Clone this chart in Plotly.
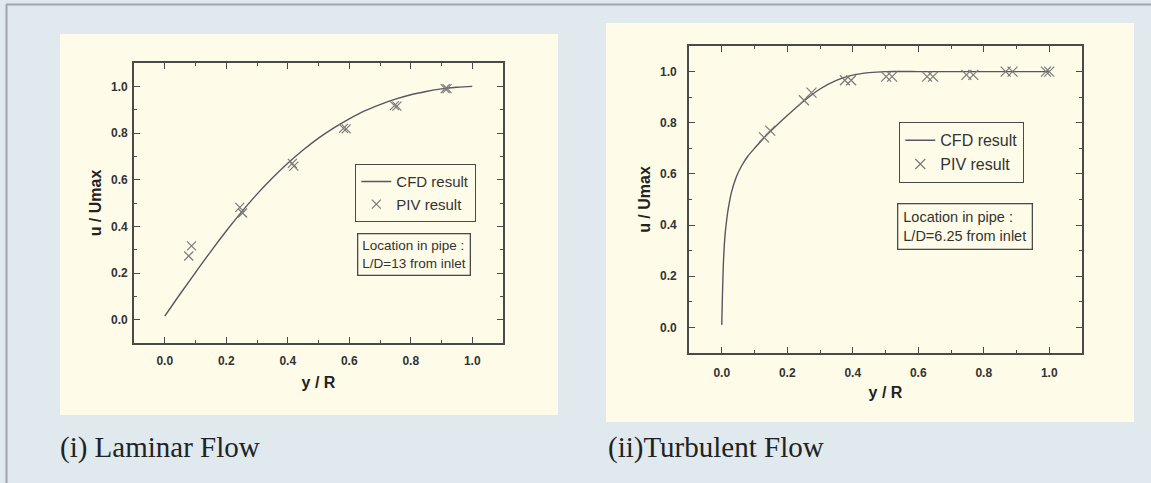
import plotly.graph_objects as go

W, H = 1151, 483

# ---------------- data ----------------
# (i) Laminar flow
lam_cfd_x = [0.0, 0.05, 0.1, 0.15, 0.2, 0.25, 0.3, 0.35, 0.4, 0.45, 0.5,
             0.55, 0.6, 0.65, 0.7, 0.75, 0.8, 0.85, 0.9, 0.95, 1.0]
lam_cfd_y = [0.015, 0.11, 0.202, 0.293, 0.38, 0.462, 0.538, 0.607, 0.67, 0.727, 0.778,
             0.822, 0.861, 0.895, 0.922, 0.945, 0.964, 0.978, 0.989, 0.996, 1.0]
lam_piv_x = [0.078, 0.087, 0.244, 0.253, 0.415, 0.42, 0.581, 0.59, 0.747, 0.755, 0.912, 0.918]
lam_piv_y = [0.273, 0.316, 0.481, 0.457, 0.67, 0.658, 0.82, 0.818, 0.917, 0.915, 0.99, 0.99]

# (ii) Turbulent flow
tur_cfd_x = [0.0, 0.002, 0.005, 0.01, 0.015, 0.02, 0.03, 0.045, 0.06, 0.08, 0.1,
             0.13, 0.16, 0.2, 0.25, 0.3, 0.35, 0.4, 0.45, 0.5, 0.6, 0.7, 0.8, 0.9, 1.0]
tur_cfd_y = [0.01, 0.12, 0.25, 0.36, 0.42, 0.465, 0.53, 0.59, 0.63, 0.67, 0.70,
             0.742, 0.78, 0.828, 0.884, 0.932, 0.966, 0.986, 0.996, 1.0, 1.0, 1.0, 1.0, 1.0, 1.0]
tur_piv_x = [0.129, 0.148, 0.251, 0.274, 0.376, 0.395, 0.502, 0.52, 0.627, 0.645,
             0.747, 0.768, 0.867, 0.888, 0.99, 1.0]
tur_piv_y = [0.743, 0.769, 0.888, 0.918, 0.966, 0.966, 0.98, 0.98, 0.98, 0.98,
             0.987, 0.987, 1.0, 1.0, 1.0, 1.0]

x_ticks = [0.0, 0.2, 0.4, 0.6, 0.8, 1.0]
y_ticks = [0.0, 0.2, 0.4, 0.6, 0.8, 1.0]
captions = ["(i) Laminar Flow", "(ii)Turbulent Flow"]
notes = ["Location in pipe :<br>L/D=13 from inlet", "Location in pipe :<br>L/D=6.25 from inlet"]

# ---------------- styling ----------------
PAGE_BG = "#dfe9ee"
CREAM = "#fefce8"
FRAME = "#4a4a4a"
LINE_C = "#5a5562"
MARK_C = "#7a7a7a"
TICK_FONT = dict(family="Liberation Sans, Arial", size=12, color="#333333", weight="bold")
TITLE_FONT = dict(family="Liberation Sans, Arial", size=16, color="#222222", weight="bold")


def px_x(p):
    return p / W


def px_y(p):
    return 1 - p / H


fig = go.Figure()

fig.add_trace(go.Scatter(x=lam_cfd_x, y=lam_cfd_y, mode="lines", name="CFD result",
                         line=dict(color=LINE_C, width=1.4, shape="spline", smoothing=1.0),
                         xaxis="x", yaxis="y", legend="legend"))
fig.add_trace(go.Scatter(x=lam_piv_x, y=lam_piv_y, mode="markers", name="PIV result",
                         marker=dict(symbol="x-thin", size=9, line=dict(color=MARK_C, width=1.2)),
                         xaxis="x", yaxis="y", legend="legend"))
fig.add_trace(go.Scatter(x=tur_cfd_x, y=tur_cfd_y, mode="lines", name="CFD result",
                         line=dict(color=LINE_C, width=1.4, shape="spline", smoothing=0.5),
                         xaxis="x2", yaxis="y2", legend="legend2"))
fig.add_trace(go.Scatter(x=tur_piv_x, y=tur_piv_y, mode="markers", name="PIV result",
                         marker=dict(symbol="x-thin", size=10, line=dict(color=MARK_C, width=1.2)),
                         xaxis="x2", yaxis="y2", legend="legend2"))

axis_common = dict(
    range=[-0.1, 1.1], tickvals=x_ticks, tickformat=".1f",
    ticks="inside", ticklen=6, tickwidth=1.3, tickcolor=FRAME,
    minor=dict(ticks="inside", dtick=0.1, ticklen=3, tickwidth=1.1, tickcolor=FRAME),
    showline=True, linecolor=FRAME, linewidth=1.6, mirror="allticks",
    showgrid=False, zeroline=False, tickfont=TICK_FONT,
)

fig.update_layout(
    width=W, height=H,
    margin=dict(l=0, r=0, t=0, b=0),
    paper_bgcolor=PAGE_BG, plot_bgcolor=CREAM,
    xaxis=dict(axis_common, domain=[px_x(134), px_x(503)], anchor="y",
               title=dict(text="y / R", font=TITLE_FONT, standoff=10), ticklabelstandoff=6),
    yaxis=dict(axis_common, domain=[px_y(343), px_y(63)], anchor="x",
               title=dict(text="u / Umax", font=TITLE_FONT, standoff=6), ticklabelstandoff=2),
    xaxis2=dict(axis_common, domain=[px_x(689), px_x(1082)], anchor="y2",
                title=dict(text="y / R", font=TITLE_FONT, standoff=8), ticklabelstandoff=8),
    yaxis2=dict(axis_common, domain=[px_y(353), px_y(46)], anchor="x2",
                title=dict(text="u / Umax", font=TITLE_FONT, standoff=6), ticklabelstandoff=8),
    legend=dict(x=px_x(355), y=px_y(164), xanchor="left", yanchor="top",
                bgcolor=CREAM, bordercolor=FRAME, borderwidth=1.3,
                font=dict(family="Liberation Sans, Arial", size=15, color="#333333"),
                tracegroupgap=0, itemwidth=30),
    legend2=dict(x=px_x(899), y=px_y(122), xanchor="left", yanchor="top",
                 bgcolor=CREAM, bordercolor=FRAME, borderwidth=1.3,
                 font=dict(family="Liberation Sans, Arial", size=16, color="#333333"),
                 tracegroupgap=0, itemwidth=30),
)

# cream image panels and page borders
fig.add_shape(type="rect", xref="paper", yref="paper", x0=px_x(60), x1=px_x(558),
              y0=px_y(415), y1=px_y(34), fillcolor=CREAM, line=dict(width=0), layer="below")
fig.add_shape(type="rect", xref="paper", yref="paper", x0=px_x(606), x1=px_x(1134),
              y0=px_y(422), y1=px_y(23), fillcolor=CREAM, line=dict(width=0), layer="below")
fig.add_shape(type="line", xref="paper", yref="paper", x0=px_x(6), x1=1,
              y0=px_y(4.5), y1=px_y(4.5), line=dict(color="#a2a6a8", width=2))
fig.add_shape(type="line", xref="paper", yref="paper", x0=px_x(6.5), x1=px_x(6.5),
              y0=0, y1=px_y(4.5), line=dict(color="#a2a6a8", width=2))

# note boxes
fig.add_annotation(text=notes[0], xref="paper", yref="paper", x=px_x(357), y=px_y(233),
                   xanchor="left", yanchor="top", align="left", showarrow=False,
                   bordercolor=FRAME, borderwidth=1.3, borderpad=4, bgcolor=CREAM,
                   font=dict(family="Liberation Sans, Arial", size=13.5, color="#333333"))
fig.add_annotation(text=notes[1], xref="paper", yref="paper", x=px_x(897), y=px_y(203),
                   xanchor="left", yanchor="top", align="left", showarrow=False,
                   bordercolor=FRAME, borderwidth=1.3, borderpad=5, bgcolor=CREAM,
                   font=dict(family="Liberation Sans, Arial", size=14.5, color="#333333"))

# captions
fig.add_annotation(text=captions[0], xref="paper", yref="paper", x=px_x(58), y=px_y(447),
                   xanchor="left", yanchor="middle", showarrow=False,
                   font=dict(family="Liberation Serif, Times New Roman", size=29, color="#222222"))
fig.add_annotation(text=captions[1], xref="paper", yref="paper", x=px_x(606), y=px_y(447),
                   xanchor="left", yanchor="middle", showarrow=False,
                   font=dict(family="Liberation Serif, Times New Roman", size=29, color="#222222"))

fig.write_html(
    "out.html",
    config={"displayModeBar": False},
    post_script="document.body.style.margin='0';document.body.style.overflow='hidden';"
                "document.body.style.background='" + PAGE_BG + "';",
)
